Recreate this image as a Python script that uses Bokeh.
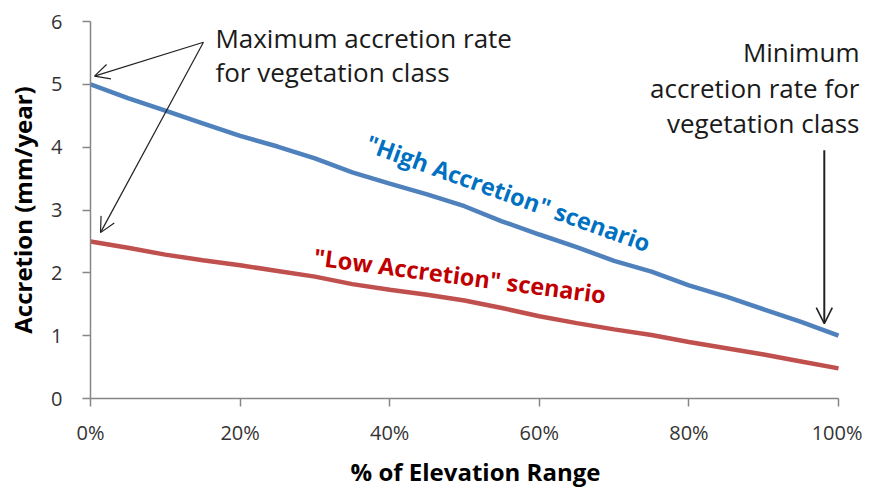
from bokeh.plotting import figure
from bokeh.models import Range1d, Label, Arrow, OpenHead, NumeralTickFormatter, FixedTicker
from bokeh.embed import file_html
from bokeh.resources import INLINE

# ---- data ----
elev_frac = [0.00, 0.05, 0.10, 0.15, 0.20, 0.25, 0.30, 0.35, 0.40, 0.45, 0.50,
             0.55, 0.60, 0.65, 0.70, 0.75, 0.80, 0.85, 0.90, 0.95, 1.00]
high_accretion = [5.00, 4.78, 4.58, 4.38, 4.18, 4.01, 3.82, 3.60, 3.42, 3.25, 3.06,
                  2.82, 2.61, 2.41, 2.19, 2.02, 1.80, 1.62, 1.42, 1.22, 1.00]
low_accretion = [2.50, 2.40, 2.29, 2.20, 2.12, 2.03, 1.94, 1.82, 1.73, 1.65, 1.56,
                 1.44, 1.31, 1.20, 1.10, 1.01, 0.90, 0.80, 0.70, 0.59, 0.48]
x_ticks = [0, 0.2, 0.4, 0.6, 0.8, 1.0]
y_ticks = [0, 1, 2, 3, 4, 5, 6]

FONT = "Open Sans"

p = figure(width=862, height=490, output_backend="svg", toolbar_location=None,
           x_range=Range1d(0, 1.0294), y_range=Range1d(0, 6),
           min_border_left=90, min_border_right=2, min_border_top=21, min_border_bottom=92)
p.outline_line_color = None
p.xgrid.grid_line_color = None
p.ygrid.grid_line_color = None

p.line(elev_frac, high_accretion, line_color="#4F81BD", line_width=4.5)
p.line(elev_frac, low_accretion, line_color="#C0504D", line_width=4.5)

for ax in (p.xaxis[0], p.yaxis[0]):
    ax.axis_line_color = "#868686"
    ax.axis_line_width = 1.5
    ax.major_tick_line_color = "#868686"
    ax.major_tick_line_width = 1.5
    ax.major_tick_in = 0
    ax.major_tick_out = 8
    ax.minor_tick_line_color = None
    ax.major_label_text_font = FONT
    ax.major_label_text_font_size = "20px"
    ax.major_label_text_color = "#333333"
    ax.axis_label_text_font = FONT
    ax.axis_label_text_font_style = "bold"
    ax.axis_label_text_font_size = "24px"
    ax.axis_label_text_color = "#000000"

p.xaxis.bounds = (0, 1)
p.xaxis.ticker = FixedTicker(ticks=x_ticks)
p.yaxis.ticker = FixedTicker(ticks=y_ticks)
p.xaxis.formatter = NumeralTickFormatter(format="0%")
p.xaxis.axis_label = "% of Elevation Range"
p.yaxis.axis_label = "Accretion (mm/year)"
p.xaxis.major_label_standoff = 12
p.yaxis.major_label_standoff = 20
p.xaxis.axis_label_standoff = 6
p.yaxis.axis_label_standoff = 9

# annotations
def lab(x, y, text, **kw):
    opts = dict(text_font=FONT, text_font_size="25.5px", text_color="#1a1a1a",
                text_baseline="middle")
    opts.update(kw)
    p.add_layout(Label(x=x, y=y, text=text, **opts))

lab(0.167, 5.74, "Maximum accretion rate", text_font_size="26px")
lab(0.167, 5.19, "for vegetation class", text_font_size="26px")
lab(1.028, 5.52, "Minimum", text_align="right", text_font_size="26px")
lab(1.028, 4.94, "accretion rate for", text_align="right", text_font_size="26px")
lab(1.028, 4.39, "vegetation class", text_align="right", text_font_size="26px")

lab(0.3697, 4.076, "\"High Accretion\" scenario", text_color="#0070C0",
    text_font_style="bold", angle=-0.345, text_font_size="23.5px")
lab(0.2988, 2.26, "\"Low Accretion\" scenario", text_color="#C00000",
    text_font_style="bold", angle=-0.13, text_font_size="23.5px")

p.add_layout(Arrow(x_start=0.151, y_start=5.67, x_end=0.0053, y_end=5.13,
                   line_color="#222222", line_width=1.2,
                   end=OpenHead(size=15, line_color="#222222", line_width=1.2)))
p.add_layout(Arrow(x_start=0.151, y_start=5.67, x_end=0.0134, y_end=2.64,
                   line_color="#222222", line_width=1.2,
                   end=OpenHead(size=15, line_color="#222222", line_width=1.2)))
p.add_layout(Arrow(x_start=0.981, y_start=3.95, x_end=0.981, y_end=1.19,
                   line_color="#222222", line_width=2,
                   end=OpenHead(size=16, line_color="#222222", line_width=1.6)))

open("out.html", "w").write(file_html(p, INLINE))
